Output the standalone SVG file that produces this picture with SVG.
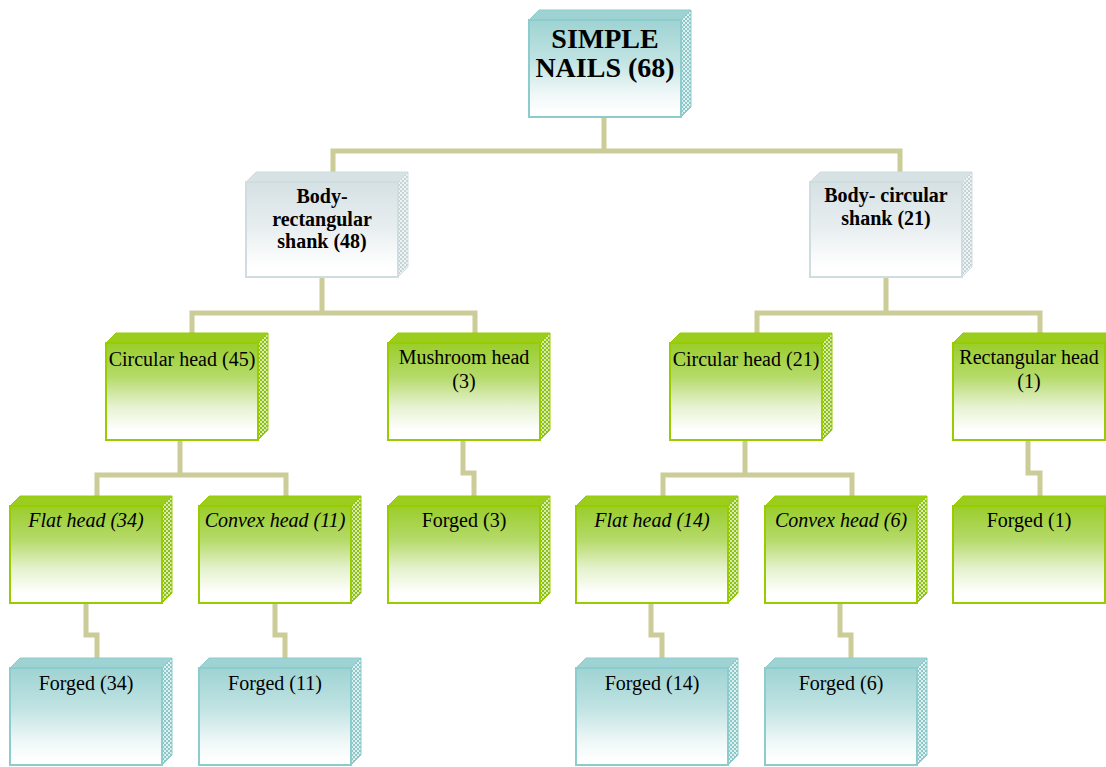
<svg xmlns="http://www.w3.org/2000/svg" xmlns:xlink="http://www.w3.org/1999/xlink" width="1106" height="767" viewBox="0 0 1106 767">
<style>
.conn{fill:none;stroke:#cccc99;stroke-width:5;stroke-linejoin:miter}
.t{font-family:"Liberation Serif","Times New Roman",serif;font-size:20px;fill:#000;text-anchor:middle}
.b{font-weight:bold;font-size:20px}
.big{font-weight:bold;font-size:28px}
.i{font-style:italic}
.gf{fill:url(#gGreen);stroke:#99cc00;stroke-width:2}
.gt{fill:#9acd1e;stroke:#99cc00;stroke-width:1}
.gs{fill:url(#pGreen);stroke:#99cc00;stroke-width:1}
.tf{fill:url(#gTeal);stroke:#8ccccc;stroke-width:2}
.tt{fill:#9fd3d3;stroke:#8ccccc;stroke-width:1}
.ts{fill:url(#pTeal);stroke:#8ccccc;stroke-width:1}
.sf{fill:url(#gGray);stroke:#d0dde0;stroke-width:2}
.st{fill:#d7e2e5;stroke:#d0dde0;stroke-width:1}
.ss{fill:url(#pGray);stroke:#d0dde0;stroke-width:1}
</style>
<defs>
<linearGradient id="gGreen" x1="0" y1="0" x2="0" y2="1">
<stop offset="0" stop-color="#9acd2a"/>
<stop offset="0.35" stop-color="#b5da6a"/>
<stop offset="0.65" stop-color="#e6f2cf"/>
<stop offset="0.9" stop-color="#ffffff"/>
</linearGradient>
<linearGradient id="gTeal" x1="0" y1="0" x2="0" y2="1">
<stop offset="0" stop-color="#9fd3d3"/>
<stop offset="0.4" stop-color="#bfe2e2"/>
<stop offset="0.75" stop-color="#eef7f7"/>
<stop offset="0.95" stop-color="#ffffff"/>
</linearGradient>
<linearGradient id="gGray" x1="0" y1="0" x2="0" y2="1">
<stop offset="0" stop-color="#d6e1e4"/>
<stop offset="0.45" stop-color="#e6edef"/>
<stop offset="0.9" stop-color="#ffffff"/>
</linearGradient>
<pattern id="pGreen" width="4" height="4" patternUnits="userSpaceOnUse">
<rect width="4" height="4" fill="#8cbf1a"/>
<rect x="0" y="0" width="2" height="2" fill="#d9ebb0"/>
<rect x="2" y="2" width="2" height="2" fill="#d9ebb0"/>
</pattern>
<pattern id="pTeal" width="4" height="4" patternUnits="userSpaceOnUse">
<rect width="4" height="4" fill="#8cc6c6"/>
<rect x="0" y="0" width="2" height="2" fill="#dff0f0"/>
<rect x="2" y="2" width="2" height="2" fill="#dff0f0"/>
</pattern>
<pattern id="pGray" width="4" height="4" patternUnits="userSpaceOnUse">
<rect width="4" height="4" fill="#c6d3d6"/>
<rect x="0" y="0" width="2" height="2" fill="#eef3f4"/>
<rect x="2" y="2" width="2" height="2" fill="#eef3f4"/>
</pattern>
<g id="boxGreen">
<polygon class="gt" points="0,0 10,-10 162,-10 152,0"/>
<polygon class="gs" points="152,0 162,-10 162,87 152,97"/>
<rect class="gf" x="0" y="0" width="152" height="97"/>
</g>
<g id="boxTeal">
<polygon class="tt" points="0,0 10,-10 162,-10 152,0"/>
<polygon class="ts" points="152,0 162,-10 162,87 152,97"/>
<rect class="tf" x="0" y="0" width="152" height="97"/>
</g>
<g id="boxGray">
<polygon class="st" points="0,0 10,-10 162,-10 152,0"/>
<polygon class="ss" points="152,0 162,-10 162,85 152,95"/>
<rect class="sf" x="0" y="0" width="152" height="95"/>
</g>
</defs>
<g id="connectors">
<path class="conn" d="M604,117 V151 M333,182 V151 H900 V182"/>
<path class="conn" d="M322,277 V313 M192,343 V313 H475 V343"/>
<path class="conn" d="M886,277 V313 M757,343 V313 H1040 V343"/>
<path class="conn" d="M180,440 V475 M97,506 V475 H286 V506"/>
<path class="conn" d="M745,440 V475 M663,506 V475 H852 V506"/>
<path class="conn" d="M463,440 V473 H474 V506"/>
<path class="conn" d="M1028,440 V473 H1040 V506"/>
<path class="conn" d="M86,603 V635 H97 V668"/>
<path class="conn" d="M275,603 V635 H285 V668"/>
<path class="conn" d="M651,603 V635 H662 V668"/>
<path class="conn" d="M840,603 V635 H851 V668"/>
</g>
<g id="n-simple-nails">
<use xlink:href="#boxTeal" x="529" y="20"/>
<text class="t big" x="605" y="48">SIMPLE</text>
<text class="t big" x="605" y="77">NAILS (68)</text>
</g>
<g id="n-body-rect">
<use xlink:href="#boxGray" x="246" y="182"/>
<text class="t b" x="322" y="203">Body-</text>
<text class="t b" x="322" y="226">rectangular</text>
<text class="t b" x="322" y="248">shank (48)</text>
</g>
<g id="n-body-circ">
<use xlink:href="#boxGray" x="810" y="182"/>
<text class="t b" x="886" y="202">Body- circular</text>
<text class="t b" x="886" y="225">shank (21)</text>
</g>
<g id="n-circ-head-45">
<use xlink:href="#boxGreen" x="106" y="343"/>
<text class="t" x="182" y="366">Circular head (45)</text>
</g>
<g id="n-mushroom-head">
<use xlink:href="#boxGreen" x="388" y="343"/>
<text class="t" x="464" y="364">Mushroom head</text>
<text class="t" x="464" y="388">(3)</text>
</g>
<g id="n-circ-head-21">
<use xlink:href="#boxGreen" x="670" y="343"/>
<text class="t" x="746" y="366">Circular head (21)</text>
</g>
<g id="n-rect-head">
<use xlink:href="#boxGreen" x="953" y="343"/>
<text class="t" x="1029" y="364">Rectangular head</text>
<text class="t" x="1029" y="388">(1)</text>
</g>
<g id="n-flat-head-34">
<use xlink:href="#boxGreen" x="10" y="506"/>
<text class="t i" x="86" y="527">Flat head (34)</text>
</g>
<g id="n-convex-head-11">
<use xlink:href="#boxGreen" x="199" y="506"/>
<text class="t i" x="275" y="527">Convex head (11)</text>
</g>
<g id="n-forged-3">
<use xlink:href="#boxGreen" x="388" y="506"/>
<text class="t" x="464" y="527">Forged (3)</text>
</g>
<g id="n-flat-head-14">
<use xlink:href="#boxGreen" x="576" y="506"/>
<text class="t i" x="652" y="527">Flat head (14)</text>
</g>
<g id="n-convex-head-6">
<use xlink:href="#boxGreen" x="765" y="506"/>
<text class="t i" x="841" y="527">Convex head (6)</text>
</g>
<g id="n-forged-1">
<use xlink:href="#boxGreen" x="953" y="506"/>
<text class="t" x="1029" y="527">Forged (1)</text>
</g>
<g id="n-forged-34">
<use xlink:href="#boxTeal" x="10" y="668"/>
<text class="t" x="86" y="690">Forged (34)</text>
</g>
<g id="n-forged-11">
<use xlink:href="#boxTeal" x="199" y="668"/>
<text class="t" x="275" y="690">Forged (11)</text>
</g>
<g id="n-forged-14">
<use xlink:href="#boxTeal" x="576" y="668"/>
<text class="t" x="652" y="690">Forged (14)</text>
</g>
<g id="n-forged-6">
<use xlink:href="#boxTeal" x="765" y="668"/>
<text class="t" x="841" y="690">Forged (6)</text>
</g>
</svg>
